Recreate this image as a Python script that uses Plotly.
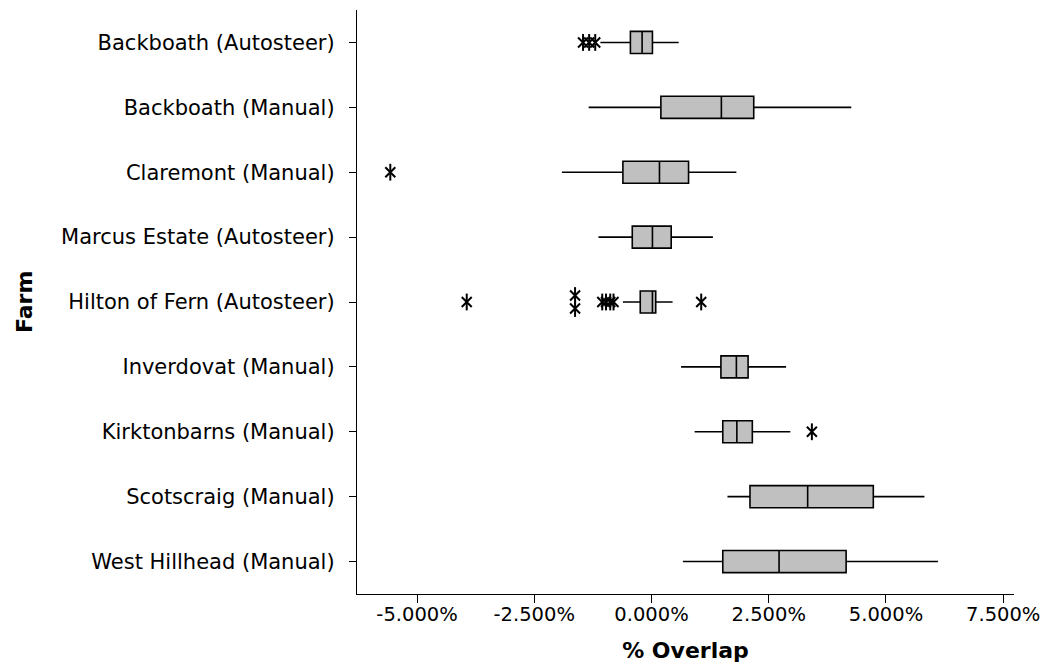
import plotly.graph_objects as go

farms = ["Backboath (Autosteer)", "Backboath (Manual)", "Claremont (Manual)",
         "Marcus Estate (Autosteer)", "Hilton of Fern (Autosteer)", "Inverdovat (Manual)",
         "Kirktonbarns (Manual)", "Scotscraig (Manual)", "West Hillhead (Manual)"]

# percent overlap statistics
lower_whisker = [-1.09, -1.34, -1.91, -1.13, -0.61, 0.63, 0.92, 1.62, 0.67]
q1 =            [-0.45,  0.20, -0.61, -0.41, -0.24, 1.48, 1.52, 2.10, 1.52]
median =        [-0.20,  1.49,  0.17,  0.02,  0.02, 1.81, 1.82, 3.33, 2.72]
q3 =            [ 0.02,  2.18,  0.79,  0.42,  0.09, 2.06, 2.15, 4.73, 4.15]
upper_whisker = [ 0.58,  4.26,  1.81,  1.31,  0.45, 2.87, 2.96, 5.82, 6.11]

outliers = [
    [-1.46, -1.33, -1.20],
    [],
    [-5.57],
    [],
    [-3.94, -1.63, -1.63, -1.05, -0.97, -0.88, -0.81, 1.06],
    [],
    [3.42],
    [],
    [],
]

tick_values = [-5.0, -2.5, 0.0, 2.5, 5.0, 7.5]
tick_labels = ["-5.000%", "-2.500%", "0.000%", "2.500%", "5.000%", "7.500%"]

FONT = "Tahoma, Verdana, DejaVu Sans, sans-serif"

fig = go.Figure()
for i, name in enumerate(farms):
    fig.add_trace(go.Box(
        y=[i], q1=[q1[i]], median=[median[i]], q3=[q3[i]],
        lowerfence=[lower_whisker[i]], upperfence=[upper_whisker[i]],
        orientation="h", width=0.34, whiskerwidth=0,
        fillcolor="#C0C0C0", line=dict(color="black", width=1.6),
        boxpoints=False, showlegend=False, hoverinfo="skip",
    ))

# outliers, duplicates stacked vertically
ox, oy = [], []
for i, vals in enumerate(outliers):
    counts = {}
    for v in vals:
        counts[v] = counts.get(v, 0) + 1
    for v, n in counts.items():
        for k in range(n):
            off = (k - (n - 1) / 2) * 0.2
            ox.append(v)
            oy.append(i + off)

for sym, sz in [("x-thin-open", 10), ("line-ns-open", 12)]:
    fig.add_trace(go.Scatter(
        x=ox, y=oy, mode="markers", showlegend=False, hoverinfo="skip",
        marker=dict(symbol=sym, size=sz, color="black",
                    line=dict(color="black", width=2)),
    ))

# page has an 8px body margin; figure sized to fit the window
W, H = 1044, 660
PL, PR, PT, PB = 349, 38, 2, 74
fig.update_layout(
    width=W, height=H,
    margin=dict(l=PL, r=PR, t=PT, b=PB),
    plot_bgcolor="white", paper_bgcolor="white",
    font=dict(family=FONT, size=21, color="black"),
    showlegend=False,
    annotations=[dict(
        text="<b>Farm</b>", textangle=-90, showarrow=False,
        xref="paper", yref="paper", x=(16 - PL) / (W - PL - PR), y=0.5,
        xanchor="center", yanchor="middle", font=dict(size=22),
    )],
)
fig.update_xaxes(
    range=[-6.28, 7.73], tickvals=tick_values, ticktext=tick_labels,
    showgrid=False, zeroline=False, showline=True, linecolor="black", linewidth=1.3,
    ticks="outside", ticklen=8, tickwidth=1.3, tickcolor="black",
    tickfont=dict(size=19.5), ticklabelstandoff=-6,
    title=dict(text="<b>% Overlap</b>", font=dict(size=22), standoff=18),
)
fig.update_yaxes(
    range=[8.5, -0.5], tickvals=list(range(len(farms))), ticktext=farms,
    showgrid=False, zeroline=False, showline=True, linecolor="black", linewidth=1.3,
    ticks="outside", ticklen=7, tickwidth=1.3, tickcolor="black",
    tickfont=dict(size=21), ticklabelstandoff=10,
)

fig.write_html("out.html")
